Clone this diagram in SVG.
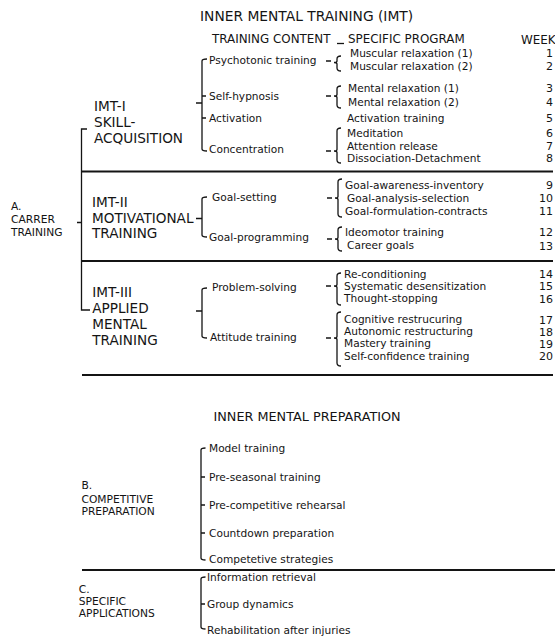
<svg xmlns="http://www.w3.org/2000/svg" width="555" height="640" viewBox="0 0 555 640">
<style>
text{font-family:"DejaVu Sans","Verdana",sans-serif;fill:#141414}
.t{font-size:13.8px}
.h{font-size:11.9px}
.g{font-size:13.6px}
.s{font-size:10.6px}
.a{font-size:10.7px}
.n{font-size:11px;text-anchor:end}
.br{fill:none;stroke:#141414;stroke-width:1.3}
.sep{fill:none;stroke:#141414;stroke-width:2}
</style>
<rect width="555" height="640" fill="#fff"/>
<g id="headers">
<text class="t" x="200" y="21">INNER MENTAL TRAINING (IMT)</text>
<text class="h" x="212" y="43.3">TRAINING CONTENT</text>
<text class="h" x="348" y="43.3">SPECIFIC PROGRAM</text>
<text class="h" x="521" y="43.6">WEEK</text>
<text class="t" x="213.5" y="421" style="font-size:12.8px">INNER MENTAL PREPARATION</text>
</g>
<g id="connectors">
<path class="br" d="M337,43.5 H344"/>
<!-- A bracket -->
<path class="br" d="M87,129 H81.5 V310 H90 M77,222.5 H81.5"/>
<path class="sep" d="M81,171.5 H553 M81,261 H553 M82,375 H553 M82,570 H555"/>
<!-- IMT-I training content -->
<path class="br" d="M207,59 Q202,59 202,61 V149 Q202,151 207,151 M202,96 H206 M202,118 H206 M196,103 H202"/>
<!-- IMT-II -->
<path class="br" d="M207,197 Q202,197 202,199 V235 Q202,237 207,237 M196,218.5 H202"/>
<!-- IMT-III -->
<path class="br" d="M207,288 Q202,288 202,290 V336 Q202,338 207,338 M196,311 H202"/>
<!-- right braces -->
<path class="br" d="M341,56 Q337,56 337,59 V61 Q337,62.5 334,62.5 Q337,62.5 337,64 V68 Q337,71 341,71 M326,61 H331"/>
<path class="br" d="M341,86 Q337,86 337,89 V94.5 Q337,96 334,96 Q337,96 337,97.5 V105 Q337,108 341,108 M326,96 H331"/>
<path class="br" d="M341,128 Q337,128 337,131 V149.5 Q337,151 334,151 Q337,151 337,152.5 V160 Q337,163 341,163 M326,151 H331"/>
<path class="br" d="M342,179 Q338,179 338,182 V196.5 Q338,198 335,198 Q338,198 338,199.5 V214 Q338,217 342,217 M327,198 H332"/>
<path class="br" d="M342,227 Q338,227 338,230 V237.5 Q338,239 335,239 Q338,239 338,240.5 V248 Q338,251 342,251 M327,239 H332"/>
<path class="br" d="M341,273 Q337,273 337,276 V284.5 Q337,286 334,286 Q337,286 337,287.5 V302 Q337,305 341,305 M326,286 H331"/>
<path class="br" d="M341,312 Q337,312 337,315 V336.5 Q337,338 334,338 Q337,338 337,339.5 V363 Q337,366 341,366 M326,338 H331"/>
<!-- B bracket -->
<path class="br" d="M205.5,448 Q201,448 201,450 V558 Q201,560 205.5,560 M201,477 H205 M201,505 H205 M201,533 H205"/>
<!-- C bracket -->
<path class="br" d="M205.5,577 Q201,577 201,579 V627 Q201,629 205.5,629 M201,604 H205"/>
</g>
<g id="A">
<text class="a" x="11" y="210">A.</text>
<text class="a" x="11" y="223">CARRER</text>
<text class="a" x="11" y="235.5">TRAINING</text>
</g>
<g id="IMT-I">
<text class="g" x="94" y="110.7">IMT-I</text>
<text class="g" x="94" y="126.7">SKILL-</text>
<text class="g" x="94" y="143.3">ACQUISITION</text>
<text class="s" x="209" y="64">Psychotonic training</text>
<text class="s" x="209" y="99.5">Self-hypnosis</text>
<text class="s" x="209" y="122">Activation</text>
<text class="s" x="209" y="153">Concentration</text>
<text class="s" x="350" y="57">Muscular relaxation (1)</text>
<text class="s" x="350" y="70">Muscular relaxation (2)</text>
<text class="s" x="348" y="92">Mental relaxation (1)</text>
<text class="s" x="348" y="106">Mental relaxation (2)</text>
<text class="s" x="347" y="122">Activation training</text>
<text class="s" x="347" y="137">Meditation</text>
<text class="s" x="347" y="149.5">Attention release</text>
<text class="s" x="347" y="162">Dissociation-Detachment</text>
</g>
<g id="IMT-II">
<text class="g" x="92" y="206.7">IMT-II</text>
<text class="g" x="92" y="222.5">MOTIVATIONAL</text>
<text class="g" x="92" y="238.3">TRAINING</text>
<text class="s" x="212" y="200.5">Goal-setting</text>
<text class="s" x="209" y="241">Goal-programming</text>
<text class="s" x="345" y="188.5">Goal-awareness-inventory</text>
<text class="s" x="347" y="201.5">Goal-analysis-selection</text>
<text class="s" x="345" y="214.5">Goal-formulation-contracts</text>
<text class="s" x="345" y="236">Ideomotor training</text>
<text class="s" x="347" y="249">Career goals</text>
</g>
<g id="IMT-III">
<text class="g" x="92.3" y="296.7">IMT-III</text>
<text class="g" x="92.3" y="312.7">APPLIED</text>
<text class="g" x="92.3" y="328.7">MENTAL</text>
<text class="g" x="92.3" y="344.7">TRAINING</text>
<text class="s" x="212" y="290.5">Problem-solving</text>
<text class="s" x="210" y="341">Attitude training</text>
<text class="s" x="344" y="277.7">Re-conditioning</text>
<text class="s" x="344" y="290">Systematic desensitization</text>
<text class="s" x="344" y="302.3">Thought-stopping</text>
<text class="s" x="344" y="323.3">Cognitive restrucuring</text>
<text class="s" x="344" y="335.3">Autonomic restructuring</text>
<text class="s" x="344" y="347.3">Mastery training</text>
<text class="s" x="344" y="360">Self-confidence training</text>
</g>
<g id="weeks">
<text class="n" x="553" y="57">1</text>
<text class="n" x="553" y="70">2</text>
<text class="n" x="553" y="92">3</text>
<text class="n" x="553" y="106">4</text>
<text class="n" x="553" y="122">5</text>
<text class="n" x="553" y="137">6</text>
<text class="n" x="553" y="149.5">7</text>
<text class="n" x="553" y="162">8</text>
<text class="n" x="553" y="188.5">9</text>
<text class="n" x="553" y="201.5">10</text>
<text class="n" x="553" y="214.5">11</text>
<text class="n" x="553" y="236">12</text>
<text class="n" x="553" y="250">13</text>
<text class="n" x="553" y="278">14</text>
<text class="n" x="553" y="290">15</text>
<text class="n" x="553" y="302.5">16</text>
<text class="n" x="553" y="323.5">17</text>
<text class="n" x="553" y="335.5">18</text>
<text class="n" x="553" y="347.5">19</text>
<text class="n" x="553" y="360">20</text>
</g>
<g id="B">
<text class="a" x="81.5" y="489.3">B.</text>
<text class="a" x="81.5" y="502.7">COMPETITIVE</text>
<text class="a" x="81.5" y="515">PREPARATION</text>
<text class="s" x="209" y="452">Model training</text>
<text class="s" x="209" y="480.5">Pre-seasonal training</text>
<text class="s" x="209" y="508.5">Pre-competitive rehearsal</text>
<text class="s" x="209" y="537">Countdown preparation</text>
<text class="s" x="209" y="563">Competetive strategies</text>
</g>
<g id="C">
<text class="a" x="78.7" y="593.3">C.</text>
<text class="a" x="78.7" y="605">SPECIFIC</text>
<text class="a" x="78.7" y="617.3">APPLICATIONS</text>
<text class="s" x="207" y="580.7">Information retrieval</text>
<text class="s" x="207" y="608.3">Group dynamics</text>
<text class="s" x="207" y="634">Rehabilitation after injuries</text>
</g>
</svg>
